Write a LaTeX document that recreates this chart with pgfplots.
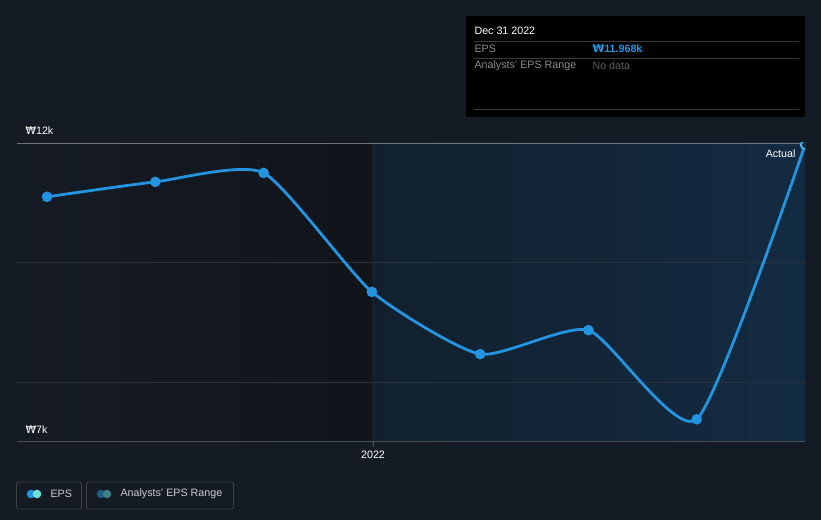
\documentclass[border=0pt]{standalone}
\usepackage{pgfplots}
\pgfplotsset{compat=1.18}
\usepackage{fontspec}
\setmainfont{Liberation Sans}
\newfontfamily\wonfont{DejaVu Sans}
\newcommand{\won}{{\wonfont ₩}}
\definecolor{bg}{HTML}{151B25}
\definecolor{leftshade}{HTML}{111419}
\definecolor{rightA}{HTML}{12202E}
\definecolor{rightB}{HTML}{132B42}
\definecolor{gridc}{HTML}{2C323C}
\definecolor{axisc}{HTML}{4A4F58}
\definecolor{epsblue}{HTML}{2394DF}
\definecolor{epscyan}{HTML}{6FE3D8}
\definecolor{rngblue}{HTML}{1F5A85}
\definecolor{rngteal}{HTML}{3F7F7F}
\definecolor{txtgray}{HTML}{8C8C8C}
\definecolor{txtdim}{HTML}{5E5E5E}
\definecolor{sepc}{HTML}{3A3A3A}
\definecolor{legborder}{HTML}{3C414A}
\definecolor{legtext}{HTML}{C8CBD0}

\pgfplotstableread{
q eps
0 11.10
1 11.35
2 11.50
3 9.51
4 8.47
5 8.87
6 7.38
7 11.968
}\epsdata

\begin{document}
\begin{tikzpicture}[font=\fontsize{10.7bp}{12bp}\selectfont]
\fill[bg] (0bp,0bp) rectangle (821bp,520bp);
\begin{axis}[
    at={(17bp,78bp)}, anchor=south west,
    scale only axis, width=788bp, height=299bp,
    xmin=-0.277, xmax=7, ymin=7, ymax=12,
    hide axis, clip=true, clip marker paths=true,
  ]
  % shaded past / forecast regions
  \fill[left color=bg, right color=leftshade] (axis cs:-0.277,7) rectangle (axis cs:3,12);
  \fill[left color=rightA, right color=rightB] (axis cs:3,7) rectangle (axis cs:7,12);
  % grid
  \draw[gridc, line width=0.8bp] (axis cs:-0.277,8) -- (axis cs:7,8);
  \draw[gridc, line width=0.8bp] (axis cs:-0.277,10) -- (axis cs:7,10);
  \draw[axisc!80, line width=0.8bp] (axis cs:-0.277,12) -- (axis cs:7,12);
  \draw[axisc, line width=1bp] (axis cs:-0.277,7) -- (axis cs:7,7);
  \addplot[epsblue, line width=2.8bp, smooth, tension=0.35,
    mark=*, mark size=3.8bp, mark options={fill=epsblue, draw=epsblue}]
    table[x=q, y=eps] {\epsdata};
  \addplot[only marks, mark=*, mark size=4bp,
    mark options={fill=rightB, draw=epscyan!60!epsblue, line width=1.5bp}]
    coordinates {(7,11.968)};
\end{axis}
% 2022 tick
\draw[axisc, line width=1bp] (373bp,78bp) -- (373bp,73bp);
\node[white] at (373bp,65bp) {2022};
% y labels
\node[white, anchor=west] at (22bp,389bp) {\won12k};
\node[white, anchor=west] at (22bp,90bp) {\won7k};
\node[white, anchor=east] at (799bp,366bp) {Actual};
% tooltip
\fill[black] (466bp,504bp) rectangle (805bp,403bp);
\node[white, anchor=west] at (471bp,489bp) {Dec 31 2022};
\draw[sepc, line width=0.8bp] (474bp,479bp) -- (799bp,479bp);
\node[txtgray, anchor=west] at (471bp,471bp) {EPS};
\node[epsblue, anchor=west] at (589bp,471bp) {\bfseries\won11.968k};
\draw[sepc, line width=0.8bp] (474bp,462bp) -- (799bp,462bp);
\node[txtgray, anchor=west] at (471bp,454bp) {Analysts' EPS Range};
\node[txtdim, anchor=west] at (589bp,454bp) {No data};
\draw[sepc, line width=0.8bp] (474bp,411bp) -- (799bp,411bp);
% legend
\draw[legborder, line width=0.8bp, rounded corners=2bp] (16.5bp,38bp) rectangle (81.5bp,11bp);
\fill[epsblue] (31bp,26bp) circle (4.3bp);
\fill[epscyan] (37bp,26bp) circle (4.3bp);
\node[legtext, anchor=west] at (47bp,26bp) {EPS};
\draw[legborder, line width=0.8bp, rounded corners=2bp] (86.5bp,38bp) rectangle (233.5bp,11bp);
\fill[rngblue] (101bp,26bp) circle (4.3bp);
\fill[rngteal] (107bp,26bp) circle (4.3bp);
\node[legtext, anchor=west] at (117bp,26bp) {Analysts' EPS Range};
\end{tikzpicture}
\end{document}
